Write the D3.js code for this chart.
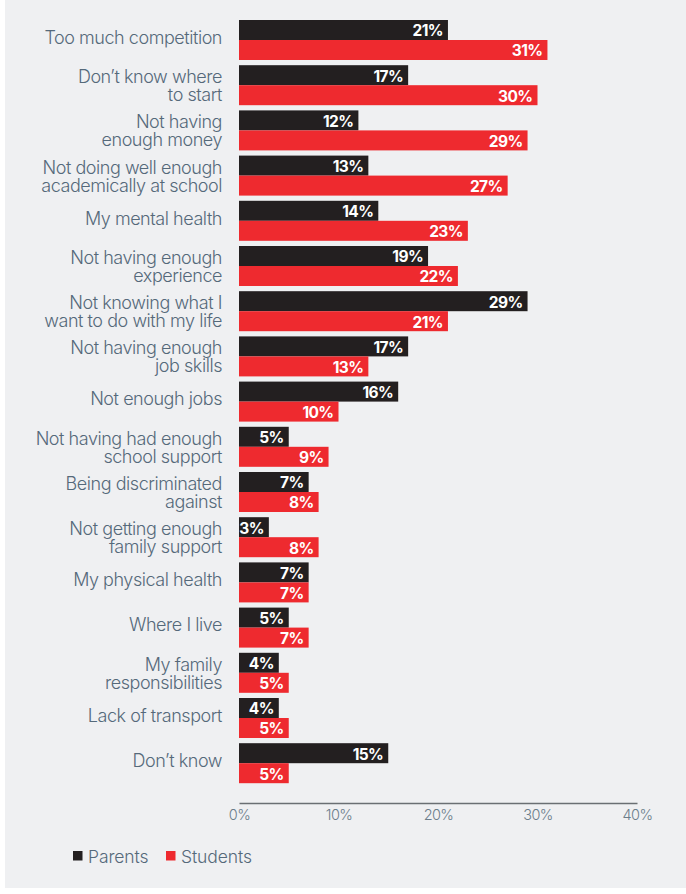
<!DOCTYPE html>
<html>
<head>
<meta charset="utf-8">
<script src="https://cdn.jsdelivr.net/npm/d3@7/dist/d3.min.js"></script>
<style>
  html, body { margin: 0; padding: 0; background: #ffffff; }
  svg { display: block; }
  text { font-family: Inter, "Noto Sans", sans-serif; }
</style>
</head>
<body>
<svg id="chart" width="686" height="894"></svg>
<script>
// Barriers to getting a job, parents vs students (percent)
const categories = [
  ["Too much competition"],
  ["Don\u2019t know where", "to start"],
  ["Not having", "enough money"],
  ["Not doing well enough", "academically at school"],
  ["My mental health"],
  ["Not having enough", "experience"],
  ["Not knowing what I", "want to do with my life"],
  ["Not having enough", "job skills"],
  ["Not enough jobs"],
  ["Not having had enough", "school support"],
  ["Being discriminated", "against"],
  ["Not getting enough", "family support"],
  ["My physical health"],
  ["Where I live"],
  ["My family", "responsibilities"],
  ["Lack of transport"],
  ["Don\u2019t know"]
];
const parents  = [21, 17, 12, 13, 14, 19, 29, 17, 16, 5, 7, 3, 7, 5, 4, 4, 15];
const students = [31, 30, 29, 27, 23, 22, 21, 13, 10, 9, 8, 8, 7, 7, 5, 5, 5];
const seriesNames = ["Parents", "Students"];
const seriesColors = ["#231f20", "#ee2a2f"];
const xTicks = [0, 10, 20, 30, 40];

const svg = d3.select("#chart");

// panel background
svg.append("rect")
  .attr("x", 5).attr("y", 0)
  .attr("width", 681).attr("height", 888)
  .attr("fill", "#eff0f2");

const keys = categories.map((c, i) => i);

const x = d3.scaleLinear().domain([0, 40]).range([239, 637]);
const y = d3.scaleBand().domain(keys).range([17.4, 785.8])
  .paddingInner(0.115).paddingOuter(0.0575);
const ySub = d3.scaleBand().domain([0, 1]).range([0, y.bandwidth()]);

const rows = keys.map(i => ({ i, values: [parents[i], students[i]], label: categories[i] }));

const group = svg.append("g").selectAll("g.row")
  .data(rows).join("g")
  .attr("class", "row")
  .attr("transform", d => `translate(0,${y(d.i)})`);

const bars = group.selectAll("g.bar")
  .data(d => d.values.map((v, s) => ({ v, s })))
  .join("g").attr("class", "bar");

bars.append("rect")
  .attr("x", x(0))
  .attr("y", d => ySub(d.s))
  .attr("width", d => x(d.v) - x(0))
  .attr("height", ySub.bandwidth())
  .attr("fill", d => seriesColors[d.s]);

bars.append("text")
  .attr("x", d => x(d.v) - 5)
  .attr("y", d => ySub(d.s) + ySub.bandwidth() / 2 + 1)
  .attr("text-anchor", "end")
  .attr("dominant-baseline", "central")
  .attr("fill", "#ffffff")
  .attr("font-size", 15.5)
  .attr("font-weight", 700)
  .attr("letter-spacing", -0.6)
  .text(d => d.v + "%");

// category labels, right-aligned beside each pair of bars
const lineH = 18;
group.append("text")
  .attr("text-anchor", "end")
  .attr("fill", "#55697a")
  .attr("font-family", "Roboto, Inter, sans-serif")
  .attr("font-size", 18)
  .attr("font-weight", 300)
  .attr("letter-spacing", -0.45)
  .each(function (d) {
    const t = d3.select(this);
    const c = y.bandwidth() / 2;
    const base = d.label.length === 1 ? [c + 3.8] : [c - 2, c - 2 + lineH];
    d.label.forEach((line, k) => {
      t.append("tspan")
        .attr("x", 222)
        .attr("y", base[k])
        .text(line);
    });
  });

// x axis
const axis = svg.append("g")
  .attr("transform", "translate(0,803)")
  .call(d3.axisBottom(x).tickValues(xTicks).tickSize(0).tickPadding(7)
    .tickFormat(d => d + "%"));
axis.select(".domain").attr("stroke", "#6a6f73").attr("stroke-width", 1.5);
axis.selectAll("text")
  .attr("fill", "#6b7d8a")
  .attr("font-size", 14.5)
  .attr("font-weight", 300)
  .attr("letter-spacing", -0.6)
  .attr("font-family", "Roboto, Inter, sans-serif");

// legend
const legendItems = [
  { name: seriesNames[0], color: seriesColors[0], x: 73 },
  { name: seriesNames[1], color: seriesColors[1], x: 166 }
];
const leg = svg.append("g").selectAll("g")
  .data(legendItems).join("g")
  .attr("transform", d => `translate(${d.x},851)`);
leg.append("rect").attr("width", 9.5).attr("height", 9.5).attr("fill", d => d.color);
leg.append("text")
  .attr("x", 15).attr("y", 5)
  .attr("dominant-baseline", "central")
  .attr("fill", "#55697a")
  .attr("font-family", "Roboto, Inter, sans-serif")
  .attr("font-size", 17.5)
  .attr("font-weight", 300)
  .attr("letter-spacing", -0.1)
  .text(d => d.name);
</script>
</body>
</html>
